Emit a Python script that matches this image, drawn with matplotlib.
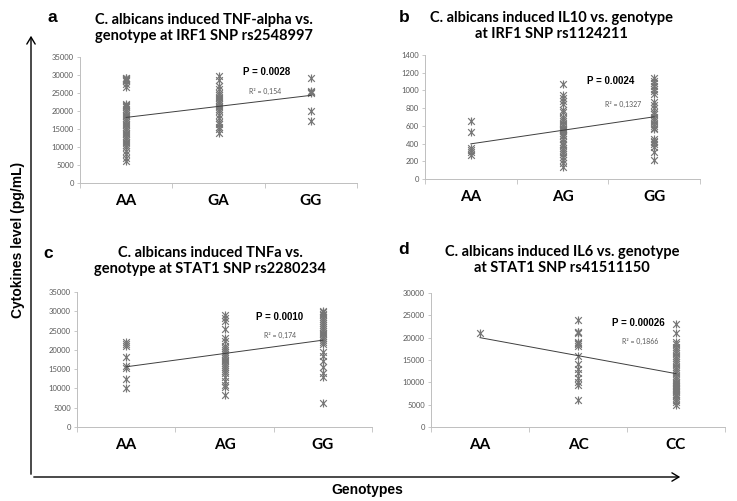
import numpy as np
import matplotlib
matplotlib.use("Agg")
import matplotlib.pyplot as plt
from matplotlib.path import Path

# ---------------- data ----------------
a_cats = ["AA", "GA", "GG"]
a_AA = [29300, 29100, 29000, 28800, 28600, 28500, 28200, 27600, 26800, 22000, 21800, 21500,
        21000, 20500, 20000, 19500, 19000, 18500, 18000, 17500, 17000, 16500, 16000, 15500,
        15000, 14500, 14000, 13500, 13000, 12500, 12000, 11500, 11000, 10500, 10000, 9000,
        8000, 7000, 6000]
a_GA = [29800, 28500, 27000, 26000, 25000, 24500, 24000, 23500, 23000, 22500, 22000, 21500,
        21000, 20500, 20000, 19000, 18000, 17000, 16500, 15500, 15000, 14000]
a_GG = [29200, 25600, 25400, 25200, 25000, 20000, 17200]

b_cats = ["AA", "AG", "GG"]
b_AA = [660, 530, 350, 330, 300, 270]
b_AG = [1070, 950, 920, 880, 850, 780, 760, 700, 680, 650, 620, 600, 580, 570, 560, 550,
        540, 520, 500, 480, 450, 420, 400, 380, 350, 330, 310, 280, 250, 220, 180, 140]
b_GG = [1140, 1110, 1080, 1050, 1020, 990, 960, 870, 840, 800, 760, 730, 700, 680, 650,
        620, 600, 580, 560, 450, 430, 420, 400, 360, 300, 220]

c_cats = ["AA", "AG", "GG"]
c_AA = [22000, 21500, 21000, 18200, 15800, 15200, 12500, 10200]
c_AG = [29000, 28200, 27600, 25300, 23000, 22200, 21000, 20500, 20000, 19500, 19000, 18500,
        18000, 17500, 17000, 16500, 16000, 15500, 15000, 14500, 14000, 13000, 12000, 11000,
        10500, 8200]
c_GG = [30000, 29700, 29400, 29000, 28500, 28000, 27500, 27000, 26500, 26000, 25500, 25000,
        24500, 24000, 23500, 23000, 22500, 22000, 21500, 19500, 18500, 17000, 15500, 14000,
        13000, 6200]

d_cats = ["AA", "AC", "CC"]
d_AA = [21000]
d_AC = [24000, 21300, 21200, 21000, 19000, 18800, 18500, 18200, 16000, 14000, 13000, 12000,
        11000, 10000, 9500, 6100]
d_CC = [23000, 21000, 19000, 18500, 18000, 17500, 17000, 16500, 16000, 15500, 15000, 14500,
        14000, 13500, 13000, 12500, 12000, 11500, 11000, 10500, 10000, 9800, 9500, 9200,
        9000, 8800, 8500, 8200, 8000, 7800, 7500, 7200, 7000, 6500, 6000, 5500, 5000]

titles = ["C. albicans induced TNF-alpha vs.\ngenotype at IRF1 SNP rs2548997",
          "C. albicans induced IL10 vs. genotype\nat IRF1 SNP rs1124211",
          "C. albicans induced TNFa vs.\ngenotype at STAT1 SNP rs2280234",
          "C. albicans induced IL6 vs. genotype\nat STAT1 SNP rs41511150"]
letters = ["a", "b", "c", "d"]
p_texts = ["P = 0.0028", "P = 0.0024", "P = 0.0010", "P = 0.00026"]
r2_texts = ["R² = 0,154", "R² = 0,1327", "R² = 0,174", "R² = 0,1866"]
ymaxs = [35000, 1400, 35000, 30000]
ysteps = [5000, 200, 5000, 5000]
ylabel = "Cytokines level (pg/mL)"
xlabel = "Genotypes"

panels = [
    (a_cats, [a_AA, a_GA, a_GG]),
    (b_cats, [b_AA, b_AG, b_GG]),
    (c_cats, [c_AA, c_AG, c_GG]),
    (d_cats, [d_AA, d_AC, d_CC]),
]

# ---------------- layout ----------------
W, H = 737, 501
fig = plt.figure(figsize=(W / 100, H / 100), dpi=100)

def fx(px):
    return px / W

def fy(py):
    return 1 - py / H

# axes boxes in pixels (left, top, right, bottom)
boxes = [(80, 57, 357, 183), (425, 55, 700, 179), (77, 292, 372, 427), (431, 293, 725, 427)]
title_pos = [(204, 28), (551, 26), (210, 261), (562, 260)]
letter_pos = [(52, 17), (404, 17), (48, 253), (404, 249)]
p_pos = [(0.675, 0.88), (0.676, 0.79), (0.688, 0.815), (0.707, 0.776)]
r2_pos = [(0.67, 0.73), (0.72, 0.605), (0.688, 0.68), (0.71, 0.64)]

star = Path([(-1, -1), (1, 1), (-1, 1), (1, -1), (0, -1.2), (0, 1.2)],
            [Path.MOVETO, Path.LINETO, Path.MOVETO, Path.LINETO, Path.MOVETO, Path.LINETO])

CAL = "Lato"
ARI = "Liberation Sans"
spine_col = "#bfbfbf"

for i, (cats, groups) in enumerate(panels):
    l, t, r, b = boxes[i]
    ax = fig.add_axes([fx(l), fy(b), fx(r - l), (b - t) / H])
    xs, ys = [], []
    for k, g in enumerate(groups):
        x = np.full(len(g), k + 1.0)
        ax.plot(x, g, linestyle="none", marker=star, markersize=5.8,
                markeredgecolor="#767676", markerfacecolor="none", markeredgewidth=0.85)
        xs.extend(x)
        ys.extend(g)
    slope, intercept = np.polyfit(xs, ys, 1)
    xl = np.array([1.0, float(len(cats))])
    ax.plot(xl, intercept + slope * xl, color="#3f3f3f", linewidth=0.7)

    ax.set_xlim(0.5, len(cats) + 0.5)
    ax.set_ylim(0, ymaxs[i])
    ax.set_yticks(np.arange(0, ymaxs[i] + 1, ysteps[i]))
    ax.set_xticks(np.arange(0.5, len(cats) + 1, 1.0))
    ax.set_xticklabels([])
    ax.set_xticks(np.arange(1, len(cats) + 1), minor=True)
    ax.set_xticklabels(cats, minor=True, fontfamily=CAL, fontweight="bold", fontsize=11,
                       color="black")
    ax.tick_params(axis="x", which="minor", length=0, pad=8)
    ax.tick_params(axis="x", which="major", length=3.5, width=0.6, color=spine_col)
    ax.tick_params(axis="y", length=2.5, width=0.6, color=spine_col, labelsize=5.5,
                   labelcolor="#595959", pad=2)
    for lab in ax.get_yticklabels():
        lab.set_fontfamily(CAL)
    for s in ["top", "right"]:
        ax.spines[s].set_visible(False)
    for s in ["left", "bottom"]:
        ax.spines[s].set_color(spine_col)
        ax.spines[s].set_linewidth(0.7)
    ax.patch.set_alpha(0)

    ax.text(p_pos[i][0], p_pos[i][1], p_texts[i], transform=ax.transAxes, ha="center",
            va="center", fontfamily=ARI, fontweight="bold", fontsize=7, color="black")
    ax.text(r2_pos[i][0], r2_pos[i][1], r2_texts[i], transform=ax.transAxes, ha="center",
            va="center", fontfamily=CAL, fontsize=5, color="#595959")

    tx, ty = title_pos[i]
    fig.text(fx(tx), fy(ty), titles[i], ha="center", va="center", fontfamily=CAL,
             fontweight="bold", fontsize=10.5, linespacing=1.25)
    lx, ly = letter_pos[i]
    fig.text(fx(lx), fy(ly), letters[i], ha="center", va="center", fontfamily=ARI,
             fontweight="bold", fontsize=12.5)

# big axes arrows
fig.add_artist(matplotlib.patches.FancyArrowPatch((fx(31), fy(477)), (fx(31), fy(33)),
               transform=fig.transFigure, arrowstyle="->,head_length=5,head_width=3",
               color="black", linewidth=1.0))
fig.add_artist(matplotlib.patches.FancyArrowPatch((fx(31), fy(477)), (fx(683), fy(477)),
               transform=fig.transFigure, arrowstyle="->,head_length=5,head_width=3",
               color="black", linewidth=1.0))
fig.text(fx(18), fy(240), ylabel, rotation=90, ha="center", va="center", fontfamily=ARI,
         fontweight="bold", fontsize=10)
fig.text(fx(367), fy(490), xlabel, ha="center", va="center", fontfamily=ARI,
         fontweight="bold", fontsize=10)

fig.savefig("out.png", dpi=100, facecolor="white")
